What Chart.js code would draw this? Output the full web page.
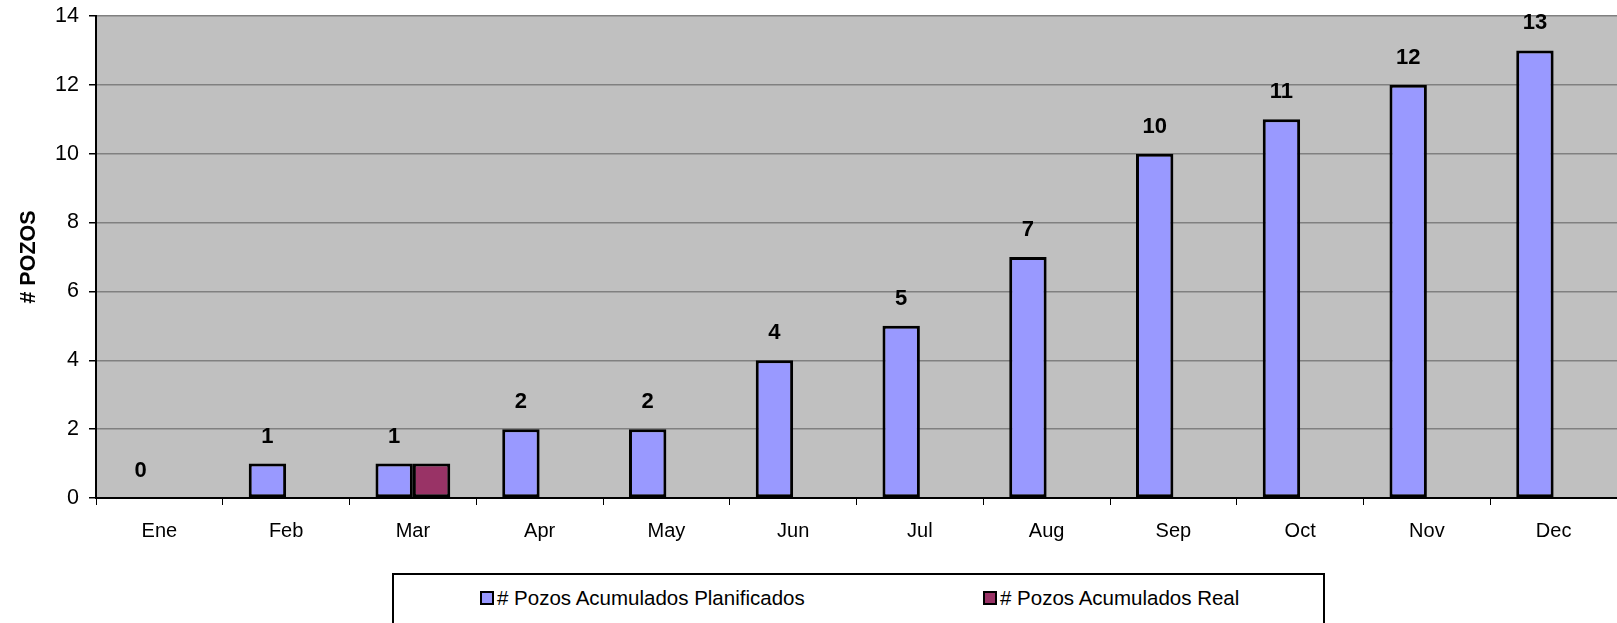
<!DOCTYPE html>
<html>
<head>
<meta charset="utf-8">
<script src="https://cdn.jsdelivr.net/npm/chart.js@4/dist/chart.umd.min.js"></script>
<style>
    html, body { margin: 0; padding: 0; background: #fff; overflow: hidden; }
    #wrap { position: relative; width: 1617px; height: 623px; }
    #chart-box { position: absolute; left: 0; top: 0; width: 1617px; height: 560px; }
    #legend {
        position: absolute; left: 392px; top: 573px; width: 933px; height: 60px;
        border: 2px solid #000; box-sizing: border-box; background: #fff;
        font-family: "Liberation Sans", Arial, sans-serif; font-size: 20.5px; color: #000;
    }
    .item { position: absolute; top: 11px; display: flex; align-items: center; white-space: nowrap; }
    .swatch { width: 10px; height: 10px; border: 2px solid #000; margin-right: 3px; }
</style>
</head>
<body>
<div id="wrap">
    <div id="chart-box"><canvas id="pozosChart"></canvas></div>
    <div id="legend"></div>
</div>
<script>
// --- Data ---
const months = ['Ene', 'Feb', 'Mar', 'Apr', 'May', 'Jun', 'Jul', 'Aug', 'Sep', 'Oct', 'Nov', 'Dec'];
const planned = [0, 1, 1, 2, 2, 4, 5, 7, 10, 11, 12, 13];
const actual = [null, null, 1, null, null, null, null, null, null, null, null, null];
const seriesNames = ['# Pozos Acumulados Planificados', '# Pozos Acumulados Real'];
const seriesColors = ['#9999FF', '#993366'];
const yTicks = [0, 2, 4, 6, 8, 10, 12, 14];

const FONT = '"Liberation Sans", Arial, sans-serif';

// Plot background (grey area)
const plotBackground = {
    id: 'plotBackground',
    beforeDraw(chart) {
        const { ctx, chartArea: a } = chart;
        ctx.save();
        ctx.fillStyle = '#C0C0C0';
        ctx.fillRect(a.left, a.top, a.right - a.left, a.bottom - a.top);
        ctx.restore();
    }
};

// Value labels above planned bars
const valueLabels = {
    id: 'valueLabels',
    afterDatasetsDraw(chart) {
        const { ctx } = chart;
        const meta = chart.getDatasetMeta(0);
        ctx.save();
        ctx.font = 'bold 22px ' + FONT;
        ctx.fillStyle = '#000';
        ctx.textAlign = 'center';
        ctx.textBaseline = 'middle';
        meta.data.forEach((bar, i) => {
            ctx.fillText(String(planned[i]), bar.x, bar.y - 27);
        });
        ctx.restore();
    }
};

const chart = new Chart(document.getElementById('pozosChart'), {
    type: 'bar',
    data: {
        labels: months,
        datasets: [
            { label: seriesNames[0], data: planned, backgroundColor: seriesColors[0] },
            { label: seriesNames[1], data: actual, backgroundColor: seriesColors[1] }
        ]
    },
    options: {
        responsive: true,
        maintainAspectRatio: false,
        animation: false,
        layout: { padding: { top: 16, left: 0, right: 0, bottom: 0 } },
        datasets: {
            bar: {
                categoryPercentage: 0.59,
                barPercentage: 1.0,
                borderColor: '#000',
                borderWidth: 3,
                borderSkipped: false
            }
        },
        plugins: {
            legend: { display: false },
            tooltip: { enabled: false }
        },
        scales: {
            x: {
                offset: true,
                grid: {
                    offset: true,
                    drawOnChartArea: false,
                    tickLength: 7,
                    tickColor: '#000'
                },
                border: { color: '#000', width: 2 },
                ticks: {
                    color: '#000',
                    font: { family: FONT, size: 20 },
                    padding: 14,
                    maxRotation: 0
                },
                afterFit(scale) { scale.height = 62; }
            },
            y: {
                min: 0,
                max: 14,
                afterBuildTicks(scale) { scale.ticks = yTicks.map(v => ({ value: v })); },
                grid: {
                    color: '#808080',
                    tickColor: '#000',
                    tickLength: 7,
                    lineWidth: 1.5
                },
                border: { color: '#000', width: 2 },
                ticks: {
                    color: '#000',
                    font: { family: FONT, size: 21.5 },
                    padding: 10
                },
                title: {
                    display: true,
                    text: '# POZOS',
                    color: '#000',
                    font: { family: FONT, size: 21.5, weight: 'bold' },
                    padding: { top: 16, bottom: 0 }
                },
                afterFit(scale) {
                    scale.width = 96;
                    scale.paddingTop = 0;
                    scale.paddingBottom = 0;
                }
            }
        }
    },
    plugins: [plotBackground, valueLabels]
});

// --- HTML legend (Excel-style box) ---
const legendEl = document.getElementById('legend');
const legendLeft = [86, 589];
seriesNames.forEach((name, i) => {
    const item = document.createElement('div');
    item.className = 'item';
    item.style.left = legendLeft[i] + 'px';
    item.innerHTML = `<span class="swatch" style="background:${seriesColors[i]}"></span><span>${name}</span>`;
    legendEl.appendChild(item);
});
</script>
</body>
</html>
